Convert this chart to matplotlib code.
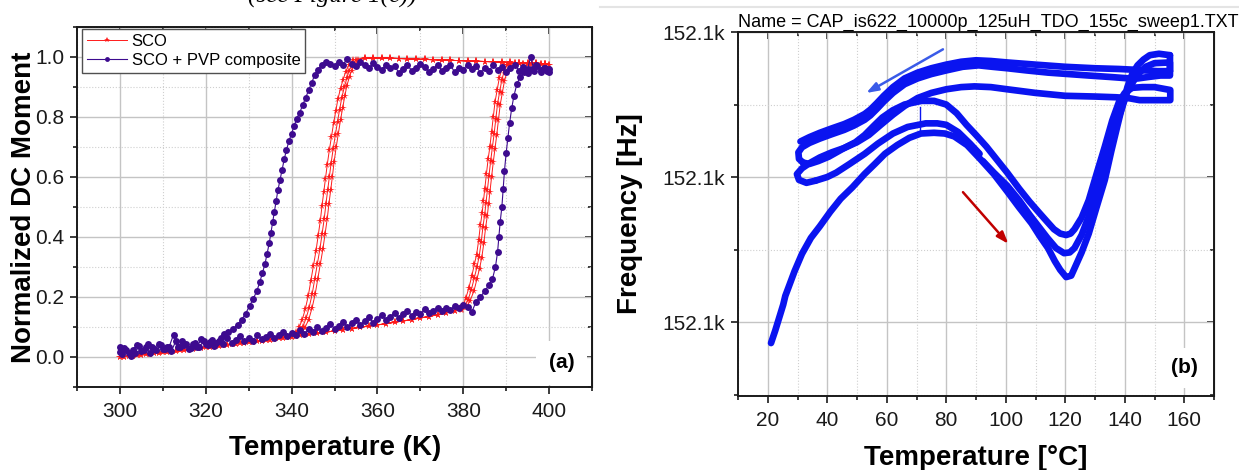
"""Two-panel figure: SCO magnetisation hysteresis (a) and TDO frequency sweep (b)."""

import matplotlib

matplotlib.use("Agg")
import matplotlib.pyplot as plt
from matplotlib.lines import Line2D
from matplotlib.ticker import FuncFormatter, MultipleLocator

plt.rcParams["font.family"] = ["Liberation Sans", "DejaVu Sans"]

W, H = 1239, 470

# ---------------------------------------------------------------- panel (a)
# SCO, low-spin branch (heating, even K) and cooling branch (odd K)
sco_low_heat_T = [300, 302, 304, 306, 308, 310, 312, 314, 316, 318, 320, 322, 324, 326,
                  328, 330, 332, 334, 336, 338, 340, 342, 344, 346, 348, 350, 352, 354,
                  356, 358, 360, 362, 364, 366, 368, 370, 372, 374, 376, 378]
sco_low_heat_m = [0.000, 0.003, 0.006, 0.010, 0.013, 0.016, 0.019, 0.023, 0.026, 0.030,
                  0.033, 0.036, 0.040, 0.043, 0.047, 0.050, 0.054, 0.057, 0.061, 0.064,
                  0.068, 0.072, 0.076, 0.079, 0.083, 0.087, 0.091, 0.095, 0.099, 0.103,
                  0.107, 0.111, 0.116, 0.120, 0.125, 0.130, 0.135, 0.141, 0.147, 0.155]
sco_low_cool_T = [341, 339, 337, 335, 333, 331, 329, 327, 325, 323, 321, 319, 317, 315,
                  313, 311, 309, 307, 305, 303, 301]
sco_low_cool_m = [0.070, 0.066, 0.062, 0.058, 0.055, 0.051, 0.047, 0.044, 0.040, 0.037,
                  0.033, 0.030, 0.026, 0.023, 0.019, 0.016, 0.013, 0.010, 0.007, 0.004,
                  0.001]

# SCO heating transitions, three cycles
sco_rise1_T = [379.2, 380.0, 380.6, 381.3, 382.0, 382.6, 383.1, 383.6, 384.0, 384.4, 384.7,
               385.0, 385.4, 385.8, 386.2, 386.6, 387.0, 387.4, 387.9, 388.4, 389.0, 389.6]
sco_rise1_m = [0.160, 0.172, 0.196, 0.23, 0.27, 0.31, 0.34, 0.39, 0.44, 0.48, 0.52,
               0.56, 0.61, 0.66, 0.70, 0.75, 0.80, 0.85, 0.89, 0.93, 0.96, 0.975]
sco_rise2_T = [379.4, 380.4, 381.1, 381.9, 382.6, 383.2, 383.7, 384.2, 384.6, 385.0, 385.3,
               385.6, 386.0, 386.4, 386.8, 387.2, 387.6, 388.0, 388.5, 389.0, 389.6, 390.2]
sco_rise2_m = [0.158, 0.170, 0.19, 0.225, 0.265, 0.30, 0.335, 0.385, 0.435, 0.475, 0.515,
               0.555, 0.605, 0.655, 0.70, 0.745, 0.795, 0.845, 0.885, 0.925, 0.955, 0.972]
sco_rise3_T = [379.6, 380.8, 381.6, 382.5, 383.2, 383.8, 384.3, 384.8, 385.2, 385.6, 385.9,
               386.2, 386.6, 387.0, 387.4, 387.8, 388.2, 388.6, 389.1, 389.6, 390.2, 390.8]
sco_rise3_m = [0.157, 0.168, 0.188, 0.22, 0.26, 0.295, 0.33, 0.38, 0.43, 0.47, 0.51,
               0.55, 0.60, 0.65, 0.695, 0.74, 0.79, 0.84, 0.88, 0.92, 0.95, 0.97]

# SCO high-spin plateau
sco_top_heat_T = [391, 392, 393, 394, 395, 396, 397, 398, 399, 400]
sco_top_heat_m = [0.978, 0.979, 0.979, 0.978, 0.978, 0.977, 0.977, 0.976, 0.976, 0.975]
sco_top_cool_T = [399, 397, 395, 393, 391, 389, 387, 385, 383, 381, 379, 377, 375, 373,
                  371, 369, 367, 365, 363, 361, 359, 357]
sco_top_cool_m = [0.978, 0.979, 0.980, 0.981, 0.982, 0.983, 0.984, 0.985, 0.986, 0.987,
                  0.988, 0.989, 0.990, 0.991, 0.992, 0.993, 0.994, 0.995, 0.996, 0.997,
                  0.997, 0.996]

# SCO cooling transitions, three cycles
sco_fall1_T = [355.5, 354.7, 354.0, 353.5, 352.9, 352.4, 351.9, 351.4, 350.9, 350.4, 349.9,
               349.5, 349.1, 348.7, 348.3, 347.8, 347.3, 346.7, 346.1, 345.5, 344.8, 344.0,
               343.1, 342.3]
sco_fall1_m = [0.990, 0.975, 0.955, 0.935, 0.905, 0.87, 0.83, 0.79, 0.745, 0.70, 0.65,
               0.60, 0.555, 0.51, 0.46, 0.41, 0.36, 0.31, 0.26, 0.21, 0.165, 0.125,
               0.098, 0.085]
sco_fall2_T = [355.0, 354.2, 353.4, 352.9, 352.3, 351.7, 351.2, 350.7, 350.2, 349.7, 349.2,
               348.8, 348.4, 348.0, 347.6, 347.1, 346.6, 346.0, 345.4, 344.8, 344.1, 343.4,
               342.6, 341.8]
sco_fall2_m = [0.99, 0.975, 0.955, 0.93, 0.90, 0.865, 0.825, 0.785, 0.74, 0.695, 0.645,
               0.60, 0.555, 0.51, 0.46, 0.41, 0.36, 0.31, 0.26, 0.21, 0.165, 0.13,
               0.10, 0.085]
sco_fall3_T = [354.2, 353.3, 352.6, 352.0, 351.4, 350.8, 350.3, 349.8, 349.3, 348.8, 348.3,
               347.9, 347.5, 347.1, 346.7, 346.2, 345.7, 345.1, 344.5, 343.9, 343.2, 342.5,
               341.8, 341.0]
sco_fall3_m = [0.99, 0.972, 0.95, 0.925, 0.895, 0.86, 0.82, 0.78, 0.735, 0.69, 0.64,
               0.595, 0.55, 0.505, 0.455, 0.405, 0.355, 0.305, 0.255, 0.205, 0.16, 0.125,
               0.10, 0.082]

# SCO + PVP composite, one heating / cooling run
pvp_heat_T = [300, 301, 302, 303, 304, 305, 306, 307, 308, 309, 310, 311, 312, 313, 314,
              315, 316, 317, 318, 319, 320, 321, 322, 323, 324, 325, 326, 327, 328, 329,
              330, 331, 332, 333, 334, 335, 336, 337, 338, 339, 340, 341, 342, 343, 344,
              345, 346, 347, 348, 349, 350, 351, 352, 353, 354, 355, 356, 357, 358, 359,
              360, 361, 362, 363, 364, 365, 366, 367, 368, 369, 370, 371, 372, 373, 374,
              375, 376, 377, 378, 379, 380, 381,
              382, 383, 384, 385, 386, 386.8, 387.5, 388.0, 388.3, 388.6, 389.0, 389.3,
              389.6, 390.0, 390.4, 390.8, 391.3, 391.8, 392.5, 393.3, 394.2, 395.0, 395.7,
              396.5, 397.3, 398.0, 398.8, 399.5, 400.0]
pvp_heat_m = [0.018, 0.030, 0.012, 0.025, 0.040, 0.020, 0.032, 0.015, 0.028, 0.045, 0.026,
              0.035, 0.020, 0.052, 0.033, 0.040, 0.028, 0.045, 0.035, 0.060, 0.042, 0.050,
              0.038, 0.055, 0.045, 0.062, 0.048, 0.058, 0.070, 0.052, 0.064, 0.055, 0.072,
              0.060, 0.068, 0.078, 0.062, 0.075, 0.085, 0.070, 0.080, 0.072, 0.090, 0.078,
              0.095, 0.085, 0.100, 0.088, 0.098, 0.110, 0.095, 0.105, 0.118, 0.100, 0.112,
              0.125, 0.108, 0.120, 0.132, 0.115, 0.128, 0.140, 0.122, 0.135, 0.148, 0.130,
              0.142, 0.155, 0.138, 0.150, 0.145, 0.160, 0.148, 0.155, 0.165, 0.152, 0.162,
              0.158, 0.170, 0.162, 0.172, 0.168,
              0.150, 0.185, 0.200, 0.220, 0.240, 0.260, 0.300, 0.350, 0.400, 0.450, 0.500,
              0.560, 0.620, 0.680, 0.730, 0.780, 0.830, 0.870, 0.910, 0.935, 0.950, 0.960,
              1.000, 0.955, 0.970, 0.950, 0.965, 0.955, 0.960]
pvp_cool_T = [400, 399, 398, 397, 396, 395, 394, 393, 392, 391, 390, 389, 388, 387, 386,
              385, 384, 383, 382, 381, 380, 379, 378, 377, 376, 375, 374, 373, 372, 371,
              370, 369, 368, 367, 366, 365, 364, 363, 362, 361, 360, 359, 358, 357, 356,
              355, 354, 353, 352, 351, 350, 349, 348,
              347.0, 346.2, 345.4, 344.7, 344.0, 343.3, 342.6, 341.9, 341.2, 340.6, 340.0,
              339.4, 338.8, 338.3, 337.8, 337.3, 336.8, 336.4, 336.0, 335.6, 335.2, 334.8,
              334.3, 333.8, 333.2, 332.6, 331.9, 331.1, 330.2, 329.3, 328.4, 327.4, 326.4,
              325.3, 324.2,
              323.5, 322.5, 321.5, 320.5, 319.5, 318.5, 317.5, 316.5, 315.5, 314.5, 313.5,
              312.5, 311.5, 310.5, 309.5, 308.5, 307.5, 306.5, 305.5, 304.5, 303.5, 302.5,
              301.5, 300.5, 300.0]
pvp_cool_m = [0.950, 0.965, 0.958, 0.972, 0.960, 0.948, 0.968, 0.955, 0.975, 0.962, 0.950,
              0.968, 0.958, 0.972, 0.955, 0.965, 0.948, 0.970, 0.960, 0.975, 0.958, 0.965,
              0.950, 0.972, 0.962, 0.955, 0.975, 0.960, 0.950, 0.968, 0.978, 0.962, 0.955,
              0.972, 0.960, 0.948, 0.970, 0.962, 0.975, 0.958, 0.968, 0.980, 0.962, 0.975,
              0.985, 0.970, 0.978, 0.995, 0.975, 0.985, 0.970, 0.978, 0.982,
              0.975, 0.958, 0.940, 0.915, 0.890, 0.865, 0.840, 0.815, 0.795, 0.770, 0.745,
              0.720, 0.690, 0.660, 0.625, 0.590, 0.555, 0.520, 0.485, 0.450, 0.415, 0.380,
              0.345, 0.310, 0.280, 0.250, 0.220, 0.195, 0.170, 0.145, 0.125, 0.108, 0.095,
              0.085, 0.078,
              0.062, 0.048, 0.058, 0.040, 0.052, 0.035, 0.048, 0.030, 0.042, 0.055, 0.032,
              0.075, 0.035, 0.028, 0.040, 0.022, 0.035, 0.045, 0.025, 0.038, 0.015, 0.005,
              0.025, 0.010, 0.035]

# ---------------------------------------------------------------- panel (b)
heat1_T = [21.1, 22.5, 24.0, 25.2, 25.9, 27.0, 29.0, 31.5, 34.5, 37.5, 41.0, 44.5, 48.5,
           52.5, 56.0, 59.4, 63.5, 67.6, 71.5, 75.9, 79.5, 82.7, 87.0, 91.6, 96.0, 100.5,
           104.5, 108.7, 111.5, 114.2, 116.5, 118.3, 120.3, 122.0, 123.1, 125.5, 127.9,
           130.5, 133.3, 135.5, 137.5, 139.3, 140.9, 142.5, 144.3, 146.3, 148.4, 151.5,
           155.2]
heat1_f = [152098.55, 152099.4, 152100.4, 152101.2, 152101.8, 152102.4, 152103.5,
           152104.7, 152105.8, 152106.6, 152107.6, 152108.5, 152109.3, 152110.2, 152110.9,
           152111.6, 152112.2, 152112.7, 152113.0, 152113.05, 152113.0, 152112.8, 152112.2,
           152111.2, 152110.2, 152109.0, 152107.9, 152106.8, 152105.9, 152105.1, 152104.2,
           152103.6, 152103.1, 152103.2, 152103.7, 152104.8, 152106.1, 152107.9, 152109.8,
           152111.8, 152113.5, 152115.0, 152116.2, 152117.1, 152117.7, 152118.1, 152118.4,
           152118.5, 152118.4]
cool1_T = [155.2, 155.2, 152.0, 148.0, 144.5, 141.5, 135.0, 127.8, 121.0, 114.2, 107.0,
           100.5, 95.5, 90.9, 85.5, 80.0, 75.0, 70.4, 66.0, 62.1, 59.0, 56.7, 54.5, 52.6,
           49.0, 45.7, 41.5, 37.5, 34.0, 31.5, 30.3, 30.5, 31.8]
cool1_f = [152118.4, 152117.0, 152117.0, 152116.9, 152116.8, 152116.8, 152116.9, 152117.0,
           152117.1, 152117.2, 152117.35, 152117.5, 152117.6, 152117.7, 152117.6, 152117.35,
           152117.1, 152116.8, 152116.4, 152115.8, 152115.2, 152114.7, 152114.25, 152113.95,
           152113.55, 152113.25, 152112.95, 152112.65, 152112.35, 152112.05, 152111.7,
           152111.25, 152111.0]
heat2_T = [31.8, 34.0, 37.0, 40.5, 45.7, 49.5, 52.6, 55.5, 58.5, 62.0, 66.0, 71.7, 75.9,
           80.0, 83.5, 86.8, 90.0, 93.5, 97.0, 100.5, 104.5, 108.0, 111.4, 114.0, 116.2,
           118.3, 120.3, 121.8, 123.1, 125.5, 127.9, 130.5, 133.3, 135.8, 138.1, 140.0,
           142.5, 146.0, 150.0, 155.3, 155.3, 150.0, 145.0, 141.0]
heat2_f = [152111.0, 152110.9, 152111.1, 152111.4, 152112.0, 152112.4, 152112.9, 152113.5,
           152114.1, 152114.6, 152115.0, 152115.25, 152115.25, 152115.0, 152114.4, 152113.6,
           152112.9, 152112.1, 152111.2, 152110.3, 152109.2, 152108.3, 152107.5, 152106.9,
           152106.4, 152106.1, 152106.0, 152106.1, 152106.4, 152107.2, 152108.4, 152110.2,
           152112.1, 152113.9, 152115.2, 152115.8, 152116.15, 152116.2, 152116.2, 152116.0,
           152115.3, 152115.3, 152115.3, 152115.45]
cool2_T = [141.0, 137.0, 130.0, 120.0, 110.0, 100.5, 95.0, 89.5, 85.0, 80.0, 75.0, 70.4,
           66.0, 62.1, 58.0, 54.0, 50.0, 45.7, 41.5, 37.5, 34.0, 31.5, 29.8, 30.5, 33.0,
           36.1]
cool2_f = [152115.45, 152115.5, 152115.55, 152115.6, 152115.8, 152116.05, 152116.2,
           152116.25, 152116.2, 152116.05, 152115.8, 152115.45, 152114.9, 152114.3,
           152113.6, 152112.9, 152112.4, 152112.0, 152111.7, 152111.35, 152110.95,
           152110.6, 152110.2, 152109.8, 152109.6, 152109.75]
heat3a_T = [36.1, 40.0, 43.0, 47.5, 52.6, 57.0, 62.1, 67.0, 73.1, 77.0, 80.0, 84.0, 88.0,
            91.2]
heat3a_f = [152109.75, 152110.0, 152110.3, 152110.9, 152111.6, 152112.3, 152113.0,
            152113.45, 152113.7, 152113.7, 152113.6, 152113.1, 152112.3, 152111.6]
heat3b_T = [92.3, 96.0, 100.5, 104.5, 108.0, 111.0, 114.0, 116.9, 119.6, 121.5, 123.1,
            125.5, 127.9, 130.5, 133.3, 136.0, 138.8, 140.9, 142.9, 145.0, 147.0, 150.0,
            155.2, 155.2]
heat3b_f = [152111.1, 152110.3, 152109.4, 152108.4, 152107.4, 152106.6, 152105.8,
            152105.1, 152104.75, 152104.8, 152105.1, 152106.0, 152107.3, 152109.2,
            152111.2, 152113.0, 152114.6, 152115.9, 152116.6, 152117.2, 152117.6,
            152117.85, 152117.9, 152117.3]
cool3_T = [155.2, 151.0, 147.0, 143.0, 138.0, 130.0, 120.0, 110.0, 100.5, 95.0, 90.0,
           85.0, 80.0, 75.0, 70.4, 66.0, 62.1, 59.0, 56.7, 54.5, 52.6, 49.0, 45.7, 41.5,
           37.5, 34.0, 31.0]
cool3_f = [152117.3, 152117.3, 152117.35, 152117.4, 152117.45, 152117.5, 152117.6,
           152117.75, 152117.9, 152118.0, 152118.05, 152117.95, 152117.75, 152117.5,
           152117.2, 152116.8, 152116.2, 152115.6, 152115.1, 152114.65, 152114.35,
           152113.95, 152113.65, 152113.35, 152113.05, 152112.75, 152112.45]
spike_T = [71.3, 71.3]
spike_f = [152114.8, 152113.1]

sweeps_b = [(heat1_T, heat1_f), (cool1_T, cool1_f), (heat2_T, heat2_f),
            (cool2_T, cool2_f), (heat3a_T, heat3a_f), (heat3b_T, heat3b_f),
            (cool3_T, cool3_f)]


def style_axes(ax):
    for spine in ax.spines.values():
        spine.set_linewidth(1.4)
        spine.set_color("#1a1a1a")
    ax.set_axisbelow(True)
    ax.grid(which="major", color="#c4c4c4", linewidth=1.0)
    ax.grid(which="minor", color="#cfcfcf", linewidth=0.8, linestyle=":")
    ax.tick_params(which="both", direction="out", labelsize=15, width=1.2,
                   colors="#1a1a1a", labelcolor="#1a1a1a")
    ax.tick_params(which="major", length=5)
    ax.tick_params(which="minor", length=3)
    # inward ticks on the top and right edges
    top = ax.secondary_xaxis("top")
    right = ax.secondary_yaxis("right")
    for sec in (top, right):
        sec.tick_params(which="both", direction="in", width=1.2, colors="#1a1a1a",
                        labeltop=False, labelright=False)
        sec.tick_params(which="major", length=5)
        sec.tick_params(which="minor", length=3)
    return top, right


fig = plt.figure(figsize=(W / 100, H / 100), dpi=100)

# ---- panel (a)
ax_a = fig.add_axes([77 / W, 1 - 387 / H, 515 / W, 360 / H])
top_a, right_a = style_axes(ax_a)
for axis in (ax_a.xaxis, top_a.xaxis):
    axis.set_major_locator(MultipleLocator(20))
    axis.set_minor_locator(MultipleLocator(10))
for axis in (ax_a.yaxis, right_a.yaxis):
    axis.set_major_locator(MultipleLocator(0.2))
    axis.set_minor_locator(MultipleLocator(0.1))
ax_a.set_xlim(290, 410)
ax_a.set_ylim(-0.1, 1.1)
ax_a.yaxis.set_major_formatter(FuncFormatter(lambda v, p: f"{v:.1f}"))
ax_a.tick_params(axis="x", pad=6)
ax_a.tick_params(axis="y", pad=4)

sco_T, sco_m = [], []
for rise_T, rise_m, fall_T, fall_m in (
    (sco_rise1_T, sco_rise1_m, sco_fall1_T, sco_fall1_m),
    (sco_rise2_T, sco_rise2_m, sco_fall2_T, sco_fall2_m),
    (sco_rise3_T, sco_rise3_m, sco_fall3_T, sco_fall3_m),
):
    sco_T += sco_low_heat_T + rise_T + sco_top_heat_T + sco_top_cool_T + fall_T + sco_low_cool_T
    sco_m += sco_low_heat_m + rise_m + sco_top_heat_m + sco_top_cool_m + fall_m + sco_low_cool_m

ax_a.plot(sco_T, sco_m, color="#ff1a1a", linewidth=0.7, marker="*", markersize=5.5,
          markeredgewidth=0, label="SCO", zorder=3)
ax_a.plot(pvp_heat_T + pvp_cool_T, pvp_heat_m + pvp_cool_m, color="#3d0b8f",
          linewidth=0.8, marker="o", markersize=5.0, markeredgewidth=0,
          label="SCO + PVP composite", zorder=4)

legend = ax_a.legend(loc="upper left", bbox_to_anchor=(0.009, 0.995), borderaxespad=0,
                     fontsize=12, frameon=True, fancybox=False, framealpha=1,
                     edgecolor="#505050", handlelength=2.4, handletextpad=0.3,
                     labelspacing=0.25, borderpad=0.3, numpoints=1, markerscale=0.7)
legend.get_frame().set_linewidth(1.0)

ax_a.set_xlabel("Temperature (K)", fontsize=20, fontweight="bold")
ax_a.set_ylabel("Normalized DC Moment", fontsize=20, fontweight="bold")
ax_a.xaxis.set_label_coords(0.501, -0.132)
ax_a.yaxis.set_label_coords(-0.078, 0.5)
ax_a.text(0.941, 0.067, "(a)", transform=ax_a.transAxes, fontsize=15, fontweight="bold",
          ha="center", va="center", zorder=6,
          bbox=dict(boxstyle="square,pad=0.6", facecolor="white", edgecolor="none"))

# ---- panel (b)
ax_b = fig.add_axes([738 / W, 1 - 396 / H, 476 / W, 364 / H])
top_b, right_b = style_axes(ax_b)
for axis in (ax_b.xaxis, top_b.xaxis):
    axis.set_major_locator(MultipleLocator(20))
    axis.set_minor_locator(MultipleLocator(10))
for axis in (ax_b.yaxis, right_b.yaxis):
    axis.set_major_locator(MultipleLocator(10))
    axis.set_minor_locator(MultipleLocator(5))
ax_b.set_xlim(10, 170)
ax_b.set_ylim(152094.9, 152120)
ax_b.yaxis.set_major_formatter(FuncFormatter(lambda v, p: f"{v / 1000:.1f}k"))
ax_b.tick_params(axis="x", pad=6)
ax_b.tick_params(axis="y", pad=4)

for temps, freqs in sweeps_b:
    ax_b.plot(temps, freqs, color="#0a14f0", linewidth=4.8, solid_capstyle="round",
              solid_joinstyle="round", zorder=3)
ax_b.plot(spike_T, spike_f, color="#0a14f0", linewidth=1.0, zorder=3)

ax_b.annotate("", xy=(52.3, 152115.7), xytext=(79.7, 152118.9),
              arrowprops=dict(arrowstyle="-|>,head_length=0.7,head_width=0.25",
                              color="#3a5be8", linewidth=1.8), zorder=5)
ax_b.annotate("", xy=(101.5, 152105.25), xytext=(85.0, 152109.1),
              arrowprops=dict(arrowstyle="-|>,head_length=0.7,head_width=0.25",
                              color="#c00000", linewidth=1.8), zorder=5)

title = fig.text(738 / W, 1 - 27 / H, "Name = CAP_is622_10000p_125uH_TDO_155c_sweep1.TXT",
                 fontsize=13, ha="left", va="baseline")
ax_b.set_xlabel("Temperature [°C]", fontsize=20, fontweight="bold")
ax_b.set_ylabel("Frequency [Hz]", fontsize=20, fontweight="bold")
ax_b.xaxis.set_label_coords(0.499, -0.135)
ax_b.yaxis.set_label_coords(-0.20, 0.5)
ax_b.text(0.937, 0.077, "(b)", transform=ax_b.transAxes, fontsize=15, fontweight="bold",
          ha="center", va="center", zorder=6,
          bbox=dict(boxstyle="square,pad=0.5", facecolor="white", edgecolor="none"))

# page fragments visible in the source screenshot
fig.text(332 / W, 1 - 3 / H, "(see Figure 1(c))", fontsize=18, style="italic",
         family=["Liberation Serif", "DejaVu Serif"], ha="center", va="baseline")
fig.add_artist(Line2D([600 / W, 1.0], [1 - 7 / H, 1 - 7 / H], color="#e4e4e4",
                      linewidth=1.5, transform=fig.transFigure))

fig.savefig("out.png", dpi=100)
